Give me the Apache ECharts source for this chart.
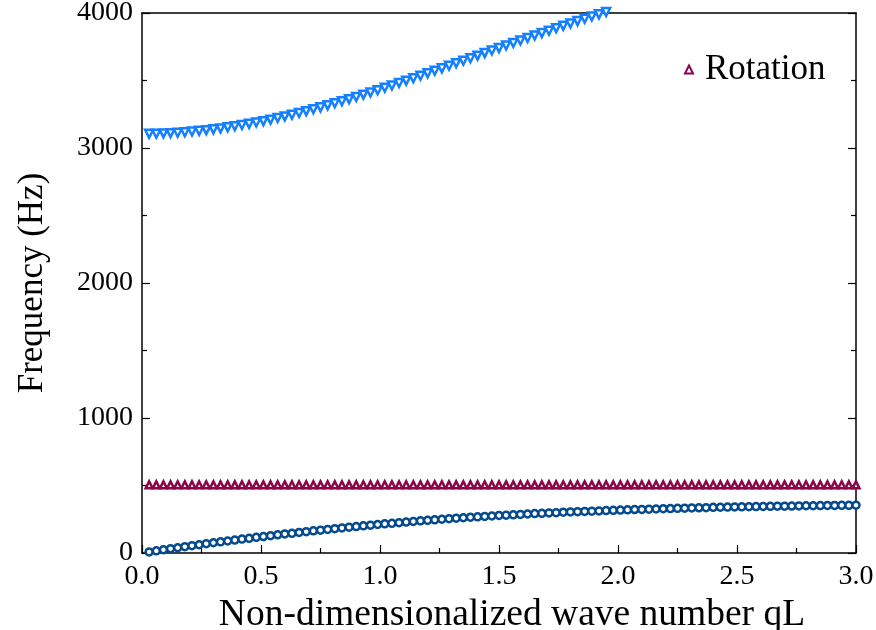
<!DOCTYPE html>
<html>
<head>
<meta charset="utf-8">
<script src="https://cdn.jsdelivr.net/npm/echarts@6/dist/echarts.min.js"></script>
<style>html,body{margin:0;padding:0;background:#fff;}#c{width:876px;height:630px;}</style>
</head>
<body>
<div id="c"></div>
<script>
const qL = [0.03,0.06,0.09,0.12,0.15,0.18,0.21,0.24,0.27,0.30,
  0.33,0.36,0.39,0.42,0.45,0.48,0.51,0.54,0.57,0.60,
  0.63,0.66,0.69,0.72,0.75,0.78,0.81,0.84,0.87,0.90,
  0.93,0.96,0.99,1.02,1.05,1.08,1.11,1.14,1.17,1.20,
  1.23,1.26,1.29,1.32,1.35,1.38,1.41,1.44,1.47,1.50,
  1.53,1.56,1.59,1.62,1.65,1.68,1.71,1.74,1.77,1.80,
  1.83,1.86,1.89,1.92,1.95,1.98,2.01,2.04,2.07,2.10,
  2.13,2.16,2.19,2.22,2.25,2.28,2.31,2.34,2.37,2.40,
  2.43,2.46,2.49,2.52,2.55,2.58,2.61,2.64,2.67,2.70,
  2.73,2.76,2.79,2.82,2.85,2.88,2.91,2.94,2.97,3.00];

const acoustic = [8,16,24,32,39,47,54,61,69,76,
  83,89,96,103,109,116,122,128,135,141,
  146,152,158,164,169,175,180,186,191,196,
  201,206,211,216,220,225,229,234,238,242,
  246,250,254,258,261,265,268,271,274,278,
  280,283,286,289,292,294,297,299,302,304,
  306,308,310,312,314,316,318,320,322,323,
  325,326,328,329,331,332,334,335,336,338,
  339,340,341,342,343,344,345,346,347,347,
  348,349,350,350,351,352,352,353,353,354];

const rotation = [505,505,505,505,505,505,505,505,505,505,
  505,505,505,505,505,505,505,505,505,505,
  505,505,505,505,505,505,505,505,505,505,
  505,505,505,505,505,505,505,505,505,505,
  505,505,505,505,505,505,505,505,505,505,
  505,505,505,505,505,505,505,505,505,505,
  505,505,505,505,505,505,505,505,505,505,
  505,505,505,505,505,505,505,505,505,505,
  505,505,505,505,505,505,505,505,505,505,
  505,505,505,505,505,505,505,505,505,505];

const optical = [3105,3106,3108,3110,3113,3117,3122,3127,3132,3138,
  3145,3153,3161,3170,3179,3189,3199,3210,3222,3234,
  3246,3259,3273,3287,3301,3316,3331,3346,3362,3378,
  3395,3411,3428,3446,3463,3481,3499,3517,3535,3553,
  3572,3590,3609,3628,3646,3665,3684,3703,3722,3740,
  3759,3778,3796,3815,3833,3851,3869,3887,3905,3922,
  3940,3957,3974,3990,4007];

const xTicks = ['0.0','0.5','1.0','1.5','2.0','2.5','3.0'];
const yTicks = ['0','1000','2000','3000','4000'];

const FONT = '"Liberation Serif", "Times New Roman", serif';
const pairs = (ys) => ys.map((y, i) => [qL[i], y]);

const chart = echarts.init(document.getElementById('c'), null, {renderer: 'canvas'});
const axisLine = {show: true, onZero: false, lineStyle: {color: '#000', width: 1.5}};
chart.setOption({
  animation: false,
  backgroundColor: '#fff',
  grid: {left: 142, right: 20, top: 13, bottom: 77, containLabel: false, outerBoundsMode: 'none'},
  legend: {
    data: ['Rotation'],
    left: 679, top: 47,
    itemWidth: 8, itemHeight: 8,
    textStyle: {fontFamily: FONT, fontSize: 35, color: '#000', padding: [0, 0, 0, 7]}
  },
  xAxis: [{
    type: 'value', min: 0, max: 3, interval: 0.5,
    name: 'Non-dimensionalized wave number qL',
    nameLocation: 'middle', nameGap: 30,
    nameTextStyle: {fontFamily: FONT, fontSize: 37.5, color: '#000', padding: [0, 0, 0, 26]},
    axisLine: axisLine,
    axisTick: {show: true, inside: true, length: 8, lineStyle: {color: '#000', width: 1.2}},
    minorTick: {show: true, splitNumber: 2, length: 5, lineStyle: {color: '#000', width: 1.2}},
    axisLabel: {fontFamily: FONT, fontSize: 28, color: '#000', margin: 10,
      formatter: (v) => xTicks[Math.round(v / 0.5)]},
    splitLine: {show: false}
  }, {
    type: 'value', min: 0, max: 3, position: 'top',
    axisLine: axisLine, axisTick: {show: false}, axisLabel: {show: false}, splitLine: {show: false}
  }],
  yAxis: [{
    type: 'value', min: 0, max: 4000, interval: 1000,
    name: 'Frequency (Hz)',
    nameLocation: 'middle', nameGap: 92,
    nameTextStyle: {fontFamily: FONT, fontSize: 35, color: '#000'},
    axisLine: axisLine,
    axisTick: {show: true, inside: true, length: 8, lineStyle: {color: '#000', width: 1.2}},
    minorTick: {show: true, splitNumber: 2, length: 5, lineStyle: {color: '#000', width: 1.2}},
    axisLabel: {fontFamily: FONT, fontSize: 28, color: '#000', margin: 9,
      formatter: (v) => yTicks[Math.round(v / 1000)]},
    splitLine: {show: false}
  }, {
    type: 'value', min: 0, max: 4000, interval: 1000, position: 'right',
    axisLine: axisLine,
    axisTick: {show: true, inside: true, length: 8, lineStyle: {color: '#000', width: 1.2}},
    minorTick: {show: true, splitNumber: 2, length: 5, lineStyle: {color: '#000', width: 1.2}},
    axisLabel: {show: false}, splitLine: {show: false}
  }],
  series: [{
    name: 'Acoustic', type: 'scatter', clip: false,
    symbol: 'circle', symbolSize: 7,
    itemStyle: {color: '#fff', borderColor: '#064a8e', borderWidth: 2.5, opacity: 1},
    data: pairs(acoustic)
  }, {
    name: 'Rotation', type: 'scatter', clip: false,
    symbol: 'triangle', symbolSize: 7,
    itemStyle: {color: '#fff', borderColor: '#8c0548', borderWidth: 2.5, opacity: 1},
    data: pairs(rotation)
  }, {
    name: 'Optical', type: 'scatter', clip: false,
    symbol: 'triangle', symbolSize: 8, symbolRotate: 180,
    itemStyle: {color: '#fff', borderColor: '#1580ff', borderWidth: 2.5, opacity: 1},
    data: pairs(optical)
  }]
});
</script>
</body>
</html>
